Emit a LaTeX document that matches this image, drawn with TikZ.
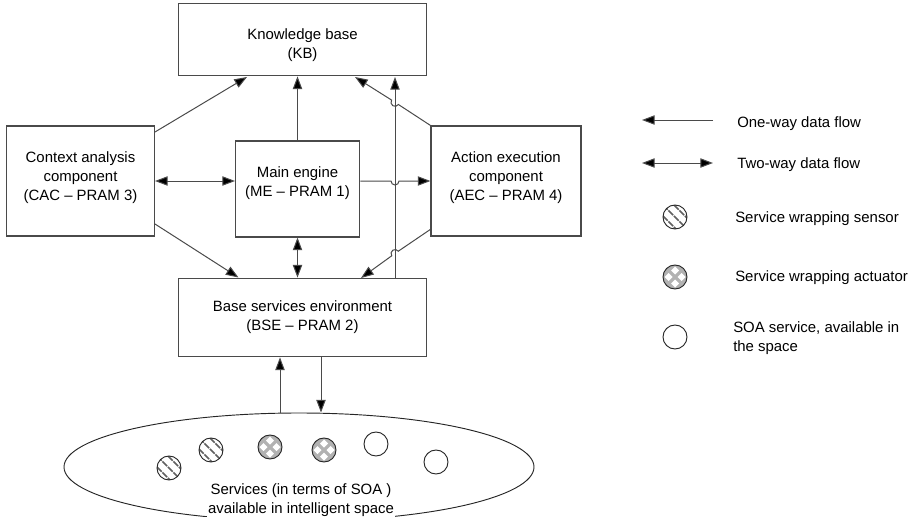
\documentclass[tikz,border=0pt]{standalone}
\usepackage{fontspec}
\setmainfont{Liberation Sans}
\usetikzlibrary{arrows.meta,calc,shapes.geometric}
\definecolor{ln}{HTML}{4A4A4A}
\newcommand{\boxlines}[2]{\raisebox{\dimexpr #1pt-2.8pt\relax}[0pt][0pt]{\begin{tabular}{@{}c@{}}#2\end{tabular}}}
\tikzset{
  x=0.75pt,y=-0.75pt,
  txt/.style={font=\fontsize{11.2}{14.2}\selectfont},
  box/.style={draw=ln,line width=0.85pt,fill=white,inner sep=0pt,txt},
  flow/.style={draw=ln,line width=0.75pt,-{Triangle[length=9.5pt,width=7pt,fill=black]}},
  both/.style={draw=ln,line width=0.75pt,{Triangle[length=9.5pt,width=7pt,fill=black]}-{Triangle[length=9.5pt,width=7pt,fill=black]}},
  note/.style={anchor=west,inner sep=0pt,align=left,txt},
  plainsvc/.style={circle,draw=black!85,line width=0.7pt,fill=white,minimum size=18pt,inner sep=0pt},
  sensorsvc/.style={plainsvc,path picture={
    \foreach \d in {-5.5,0,5.5}{
      \draw[gray!75!black,line width=1.1pt,dash pattern=on 5pt off 0.8pt]
        ($(path picture bounding box.center)+(\d-12,-12-\d)$) -- ($(path picture bounding box.center)+(\d+12,12-\d)$);}
  }},
  actuatorsvc/.style={plainsvc,fill=gray!60,path picture={
    \foreach \a/\b in {-6.5/0,6.5/0,0/-6.5,0/6.5}{
      \fill[white] ($(path picture bounding box.center)+(\a+4,\b)$) -- ($(path picture bounding box.center)+(\a,\b+4)$) -- ($(path picture bounding box.center)+(\a-4,\b)$) -- ($(path picture bounding box.center)+(\a,\b-4)$) -- cycle;}
  }},
}
\begin{document}
\begin{tikzpicture}
\useasboundingbox (0,0) rectangle (914,517);
% boxes
\node[box,minimum width=186.5pt,minimum height=54.5pt] (kb) at (302.5,39.5) {\boxlines{-4.5}{Knowledge base\\(KB)}};
\node[box,minimum width=111.5pt,minimum height=82.5pt] (cac) at (80.5,181) {\boxlines{2.5}{Context analysis\\component\\(CAC -- PRAM 3)}};
\node[box,minimum width=93.5pt,minimum height=72pt] (me) at (297.5,189) {\boxlines{4.5}{Main engine\\(ME -- PRAM 1)}};
\node[box,minimum width=112.5pt,minimum height=82.5pt] (aec) at (506,181) {\boxlines{2.5}{Action execution\\component\\(AEC -- PRAM 4)}};
\node[box,minimum width=186.5pt,minimum height=59pt] (bse) at (302.5,317.5) {\boxlines{0}{Base services environment\\(BSE -- PRAM 2)}};
% ellipse
\node[draw=black!85,line width=0.7pt,ellipse,minimum width=352.5pt,minimum height=81pt,inner sep=0pt] (env) at (299,467) {};
\node[inner sep=0.5pt,fill=white,align=center,txt] (envt) at (301,500) {Services (in terms of SOA )\\available in intelligent space};
% services
\node[sensorsvc] (s1) at (169,468) {};
\node[sensorsvc] (s2) at (211,450) {};
\node[actuatorsvc] (a1) at (270,447) {};
\node[actuatorsvc] (a2) at (324,450) {};
\node[plainsvc] (p1) at (376,444) {};
\node[plainsvc] (p2) at (436,462) {};
% connectors
\coordinate (kbA) at (247,77);
\coordinate (cacA) at (155,132);
\draw[flow] (cacA) -- (kbA);
\coordinate (kbB) at (355,77);
\coordinate (jb) at (395,102.3);
\draw[flow] (aec.north west) -- ($(jb)+(3.4,2.2)$) arc[start angle=33,end angle=213,radius=4.05] -- (kbB);
\draw[flow] (me.north) -- (me.north |- kb.south);
\coordinate (vb) at (395,278);
\coordinate (vt) at (395,77);
\draw[flow] (vb) -- (vt);
\coordinate (bl) at (155,181); \coordinate (br) at (235,181);
\draw[both] (bl) -- (br);
\coordinate (jm) at (395,181);
\draw[flow] (me.east |- jm) -- ($(jm)+(-4,0)$) arc[start angle=180,end angle=0,radius=4] -- (aec.west |- jm);
\draw[both] (me.south) -- (me.south |- bse.north);
\coordinate (cacB) at (155,224);
\coordinate (bseA) at (238.5,277.5);
\draw[flow] (cacB) -- (bseA);
\coordinate (aecB) at (431,229);
\coordinate (bseB) at (361,278);
\coordinate (jc) at (395,253.5);
\draw[flow] (aecB) -- ($(jc)+(3.3,-2.3)$) arc[start angle=-35,end angle=-215,radius=4] -- (bseB);
\coordinate (upb) at (280,412.5);
\draw[flow] (upb) -- (upb |- bse.south);
\coordinate (dnt) at (321,357);
\draw[flow] (dnt) -- (dnt |- env.north);
% legend
\coordinate (l1a) at (713,120); \coordinate (l1b) at (642,120);
\draw[flow] (l1a) -- (l1b);
\coordinate (l2a) at (642,163); \coordinate (l2b) at (713,163);
\draw[both] (l2a) -- (l2b);
\node[note] (t1) at (737,124) {One-way data flow};
\node[note] (t2) at (737,165) {Two-way data flow};
\node[sensorsvc] (ls) at (675,217) {};
\node[note] (t3) at (735,219) {Service wrapping sensor};
\node[actuatorsvc] (la) at (675,277) {};
\node[note] (t4) at (735,278) {Service wrapping actuator};
\node[plainsvc] (lp) at (675,337) {};
\node[note] (t5) at (733,338.5) {SOA service, available in\\the space};
\end{tikzpicture}
\end{document}
